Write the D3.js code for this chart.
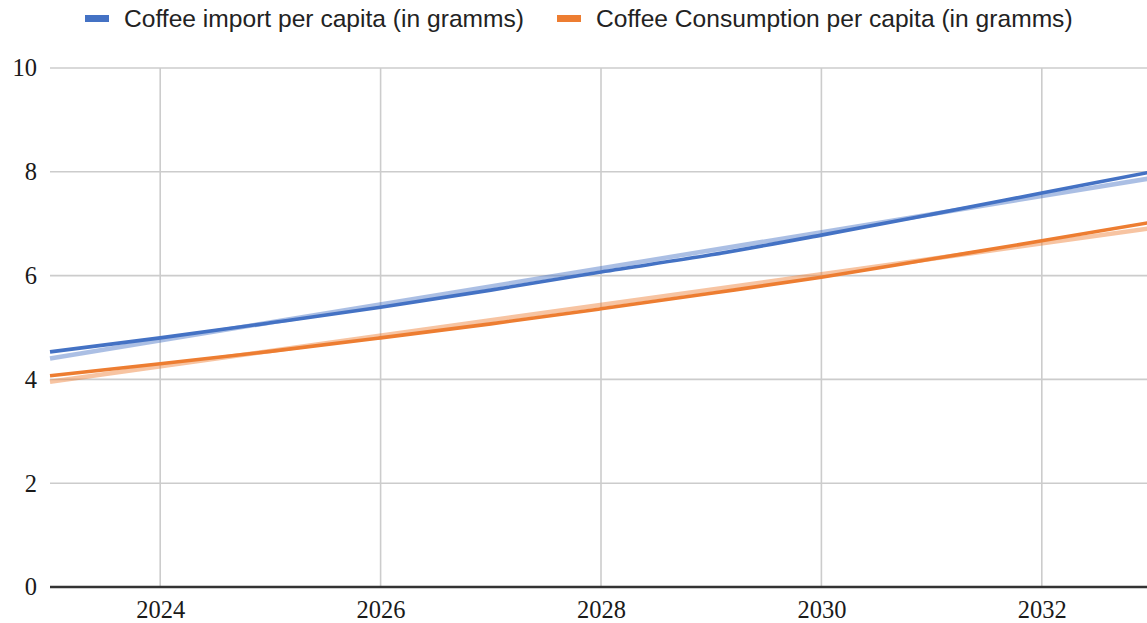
<!DOCTYPE html>
<html>
<head>
<meta charset="utf-8">
<script src="https://cdn.jsdelivr.net/npm/d3@7"></script>
<style>
  html, body { margin: 0; padding: 0; background: #fff; overflow: hidden; }
  svg { display: block; }
</style>
</head>
<body>
<svg id="chart" width="1147" height="623"></svg>
<script>
// Yearly values, grams per capita
const years = [2023, 2024, 2025, 2026, 2027, 2028, 2029, 2030, 2031, 2032, 2033];
const importValues = [4.53, 4.80, 5.09, 5.39, 5.72, 6.07, 6.40, 6.78, 7.18, 7.59, 8.00];
const consumptionValues = [4.07, 4.30, 4.54, 4.80, 5.07, 5.36, 5.66, 5.97, 6.32, 6.67, 7.03];
const seriesNames = ["Coffee import per capita (in gramms)", "Coffee Consumption per capita (in gramms)"];
const xTicks = [2024, 2026, 2028, 2030, 2032];
const yTicks = [0, 2, 4, 6, 8, 10];

const colors = ["#4472c4", "#ed7d31"];

const svg = d3.select("#chart");
const margin = { left: 50, top: 68, bottom: 36 };
const W = 1147, H = 623;

const x = d3.scaleLinear().domain([2023, 2033]).range([margin.left, 1152]);
const y = d3.scaleLinear().domain([0, 10]).range([H - margin.bottom, margin.top]);

// Gridlines
const grid = svg.append("g");
grid.selectAll("line.h").data(yTicks.filter(t => t > 0)).join("line")
  .attr("x1", margin.left).attr("x2", W)
  .attr("y1", d => y(d)).attr("y2", d => y(d))
  .attr("stroke", "#cccccc").attr("stroke-width", 1.6);
grid.selectAll("line.v").data(xTicks).join("line")
  .attr("x1", d => x(d)).attr("x2", d => x(d))
  .attr("y1", y(10)).attr("y2", y(0))
  .attr("stroke", "#cccccc").attr("stroke-width", 1.6);

const serif = "'Liberation Serif', 'DejaVu Serif', serif";

// Y axis labels
const yAxis = d3.axisLeft(y).tickValues(yTicks).tickSize(0).tickPadding(13);
svg.append("g").attr("transform", `translate(${margin.left},0)`).call(yAxis)
  .call(g => g.select(".domain").remove())
  .selectAll("text")
  .attr("font-family", serif)
  .attr("font-size", 24.5).attr("fill", "#1a1a1a");

// X axis labels
const xAxis = d3.axisBottom(x).tickValues(xTicks).tickFormat(d3.format("d")).tickSize(0).tickPadding(14);
svg.append("g").attr("transform", `translate(0,${y(0)})`).call(xAxis)
  .call(g => g.select(".domain").remove())
  .selectAll("text")
  .attr("font-family", serif)
  .attr("font-size", 24.5).attr("fill", "#1a1a1a");

// Baseline
svg.append("line")
  .attr("x1", margin.left).attr("x2", W)
  .attr("y1", y(0)).attr("y2", y(0))
  .attr("stroke", "#333").attr("stroke-width", 2.4);

// Least-squares linear trend for a series
function linearFit(xs, ys) {
  const n = xs.length;
  const mx = d3.mean(xs), my = d3.mean(ys);
  let sxy = 0, sxx = 0;
  for (let i = 0; i < n; i++) { sxy += (xs[i] - mx) * (ys[i] - my); sxx += (xs[i] - mx) ** 2; }
  const b = sxy / sxx, a = my - b * mx;
  return xv => a + b * xv;
}

const series = [importValues, consumptionValues];
const line = d3.line().x(d => x(d[0])).y(d => y(d[1])).curve(d3.curveMonotoneX);

// Trendlines
series.forEach((vals, i) => {
  const f = linearFit(years, vals);
  const ends = [years[0], years[years.length - 1]].map(yr => [yr, f(yr)]);
  svg.append("path")
    .datum(ends)
    .attr("d", d3.line().x(d => x(d[0])).y(d => y(d[1])))
    .attr("fill", "none")
    .attr("stroke", colors[i])
    .attr("stroke-opacity", 0.45)
    .attr("stroke-width", 4.5);
});

// Data lines
series.forEach((vals, i) => {
  svg.append("path")
    .datum(years.map((yr, j) => [yr, vals[j]]))
    .attr("d", line)
    .attr("fill", "none")
    .attr("stroke", colors[i])
    .attr("stroke-width", 3.6)
    .attr("stroke-linejoin", "round");
});

// Legend
const legendItems = [
  { name: seriesNames[0], color: colors[0], x: 85 },
  { name: seriesNames[1], color: colors[1], x: 557 }
];
const lg = svg.append("g");
legendItems.forEach(it => {
  lg.append("rect").attr("x", it.x).attr("y", 15).attr("width", 24).attr("height", 7).attr("fill", it.color);
  lg.append("text").attr("x", it.x + 39).attr("y", 27)
    .attr("font-family", "'Liberation Sans', Arial, sans-serif")
    .attr("font-size", 24.6).attr("fill", "#222")
    .text(it.name);
});
</script>
</body>
</html>
